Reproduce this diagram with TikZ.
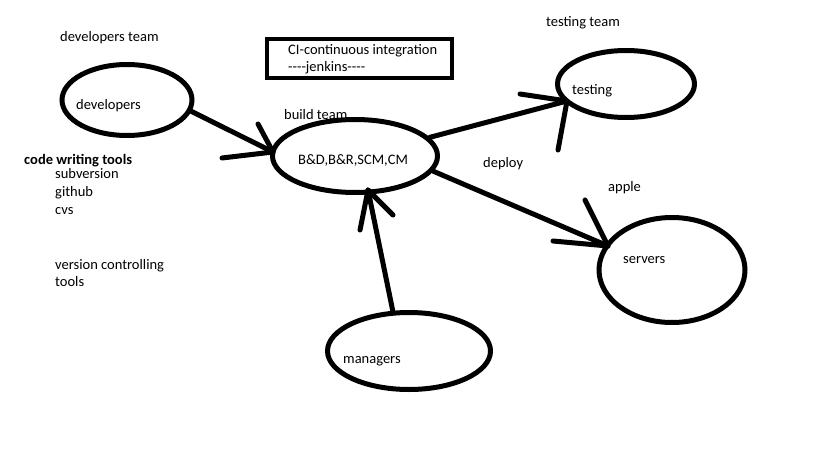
\documentclass[tikz,border=0pt]{standalone}
\usepackage{fontspec}
\setmainfont{Carlito}
\usetikzlibrary{shapes.geometric}
\newcommand\myhy{-\kern0pt}
\begin{document}
\begin{tikzpicture}[x=1pt,y=-1pt,
  oval/.style={draw,ellipse,line width=5pt,inner sep=0pt},
  lbl/.style={anchor=base west,inner sep=0pt,font=\fontsize{14.5}{17}\selectfont},
  stroke/.style={line width=5pt,line cap=round,line join=round}]
\useasboundingbox[fill=white] (0,0) rectangle (819,460);

% ovals
\node[oval,minimum width=130,minimum height=71] (dev) at (127,100) {};
\node[oval,minimum width=165,minimum height=73] (build) at (355,156) {};
\node[oval,minimum width=137,minimum height=67] (test) at (626,84) {};
\node[oval,minimum width=146,minimum height=105] (srv) at (672,270) {};
\node[oval,minimum width=163,minimum height=77] (mgr) at (409,351) {};

% CI box
\node[draw,line width=4pt,minimum width=185,minimum height=39,inner sep=0pt] (ci) at (359.5,58.5) {};
\node[lbl] (ci1) at (288,55) {CI-continuous integration};
\node[lbl] (ci2) at (288,71) {\myhy\myhy\myhy\myhy jenkins\myhy\myhy\myhy -};

% labels
\node[lbl] (devteam) at (60,42) {developers team};
\node[lbl] (devtxt) at (76,110) {developers};
\node[lbl,font=\fontsize{14.5}{17}\selectfont\bfseries] (cwt) at (24,164) {code writing tools};
\node[lbl] (svn) at (55,178) {subversion};
\node[lbl] (gh) at (55,196) {github};
\node[lbl] (cvs) at (55,214) {cvs};
\node[lbl] (vct) at (55,269) {version controlling};
\node[lbl] (tools) at (55,286) {tools};
\node[lbl] (bteam) at (284,119) {build team};
\node[lbl] (btxt) at (298,164) {B\&D,B\&R,SCM,CM};
\node[lbl] (tteam) at (546,27) {testing team};
\node[lbl] (ttxt) at (572,94) {testing};
\node[lbl] (deploy) at (483,167) {deploy};
\node[lbl] (apple) at (608,191) {apple};
\node[lbl] (stxt) at (623,263) {servers};
\node[lbl] (mtxt) at (343,363) {managers};

% arrow tips and head ends
\coordinate (t1) at (273,152);
\coordinate (h1a) at (258,124);
\coordinate (h1b) at (222,158);
\coordinate (t2) at (567,101);
\coordinate (h2a) at (520,94);
\coordinate (h2b) at (558,150);
\coordinate (t3) at (608,246);
\coordinate (h3a) at (585,200);
\coordinate (h3b) at (553,241);
\coordinate (t4) at (368,190);
\coordinate (h4a) at (360,230);
\coordinate (h4b) at (393,215);

% connectors
\draw[stroke] (dev.-10) -- (t1);
\draw[stroke] (h1a) -- (t1) -- (h1b);
\draw[stroke] (build.14) -- (t2);
\draw[stroke] (h2a) -- (t2) -- (h2b);
\draw[stroke] (build.-11) -- (t3);
\draw[stroke] (h3a) -- (t3) -- (h3b);
\draw[stroke] (mgr.112) -- (t4);
\draw[stroke] (h4a) -- (t4) -- (h4b);
\end{tikzpicture}
\end{document}
